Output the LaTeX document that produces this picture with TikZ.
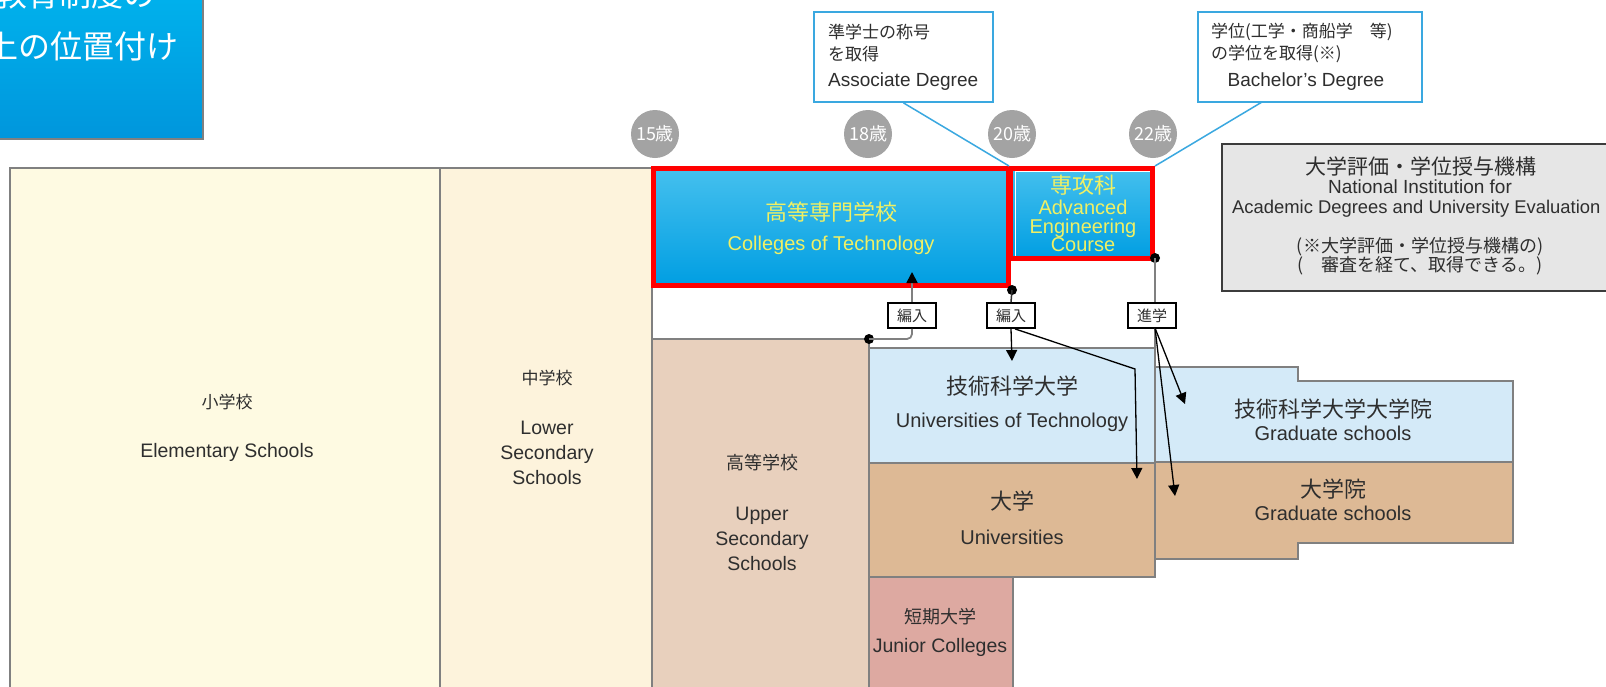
\documentclass[tikz,border=0pt]{standalone}
\usepackage{fontspec}
\setmainfont{Liberation Sans}
\newfontfamily\jp{Noto Sans CJK JP}
\usetikzlibrary{arrows.meta,shapes.geometric}
\newcommand\fsz[1]{\fontsize{#1}{#1}\selectfont}
\definecolor{titletop}{HTML}{00B4EE}
\definecolor{titlebot}{HTML}{0096DC}
\definecolor{kosentop}{HTML}{45C0EE}
\definecolor{kosenbot}{HTML}{009EE2}
\definecolor{kyellow}{HTML}{F0F064}
\definecolor{agegray}{HTML}{A3A3A3}
\definecolor{callblue}{HTML}{3AA8E0}
\definecolor{grayfill}{HTML}{E6E6E6}
\definecolor{grayline}{HTML}{3C3C3C}
\definecolor{elemfill}{HTML}{FEFAE2}
\definecolor{lowerfill}{HTML}{FDF3DC}
\definecolor{upperfill}{HTML}{E8D0BD}
\definecolor{techfill}{HTML}{D4EAF8}
\definecolor{univfill}{HTML}{DDB995}
\definecolor{juniorfill}{HTML}{DDA9A1}
\definecolor{zoneline}{HTML}{808080}
\definecolor{txt}{HTML}{2E2E2E}
\tikzset{
  zone/.style={draw=zoneline, line width=2pt},
  lbl/.style={text=txt, align=center, inner sep=0pt},
  ylbl/.style={text=kyellow, align=center, inner sep=0pt},
  agecirc/.style={circle, fill=agegray, minimum size=48pt, inner sep=0pt, text=white, font=\jp\fsz{18}},
  tagbox/.style={draw=black, fill=white, line width=1.8pt, minimum width=48pt, minimum height=25pt, inner sep=0pt, font=\jp\fsz{15}, text=txt},
  arr/.style={-{Triangle[width=11pt,length=11pt]}, line width=1.3pt, draw=black},
  garr/.style={-{Triangle[width=11pt,length=11pt,color=black]}, line width=1.8pt, draw=zoneline},
  gconn/.style={line width=1.8pt, draw=zoneline},
  bconn/.style={line width=1.5pt, draw=black!80},
  dotnode/.style={circle, fill=black, minimum size=10pt, inner sep=0pt},
  callout/.style={draw=callblue, line width=1.8pt, fill=white, inner sep=0pt},
  cline/.style={draw=callblue, line width=1.5pt},
  redframe/.style={draw=red, line width=5pt}
}
\begin{document}
\begin{tikzpicture}[x=1pt,y=-1pt]
\useasboundingbox (0,0) rectangle (1606,686);
\clip (0,0) rectangle (1606,686);
\fill[white] (0,0) rectangle (1606,686);

% title box (cut off by the page edge)
\path[top color=titletop, bottom color=titlebot] (-20,-20) rectangle (203,139);
\draw[zoneline, line width=2pt] (-20,-20) rectangle (203,139);
\node[anchor=east, text=white, font=\jp\fsz{32}, inner sep=0pt] (title1) at (156,-6) {教育制度の};
\node[anchor=east, text=white, font=\jp\fsz{32}, inner sep=0pt] (title2) at (179,46) {上の位置付け};

% age circles
\node[agecirc] (age15) at (655,134) {15歳};
\node[agecirc] (age18) at (868,134) {18歳};
\node[agecirc] (age20) at (1012,134) {20歳};
\node[agecirc] (age22) at (1153,134) {22歳};

% callout boxes
\node[callout, minimum width=179pt, minimum height=90pt] (cAssoc) at (903.5,57) {};
\node[callout, minimum width=224pt, minimum height=90pt] (cBach) at (1310,57) {};
\node[lbl, anchor=west, font=\jp\fsz{17}] (ca1) at (828,32) {準学士の称号};
\node[lbl, anchor=west, font=\jp\fsz{17}] (ca2) at (828,54) {を取得};
\node[lbl, anchor=west, font=\fsz{19}] (ca3) at (828,82) {Associate Degree};
\node[lbl, anchor=west, font=\jp\fsz{17}] (cb1) at (1211,32) {学位(工学・商船学　等)};
\node[lbl, anchor=west, font=\jp\fsz{17}] (cb2) at (1211,54) {の学位を取得(※)};
\node[lbl, font=\fsz{19}] (cb3) at (1306,82) {Bachelor's Degree};

% zones
\draw[zone, fill=elemfill] (10,168) rectangle (440,700);
\draw[zone, fill=lowerfill] (440,168) rectangle (652,700);
\draw[zone, fill=upperfill] (652,339) rectangle (869,700);
\draw[zone, fill=techfill] (869,348) rectangle (1155,463);
\draw[zone, fill=univfill] (869,463) rectangle (1155,577);
\draw[zone, fill=juniorfill] (869,577) rectangle (1013,700);
\draw[zone, fill=techfill] (1155,367) -- (1298,367) -- (1298,381) -- (1513,381) -- (1513,462) -- (1155,462) -- cycle;
\draw[zone, fill=univfill] (1155,462) -- (1513,462) -- (1513,543) -- (1298,543) -- (1298,559) -- (1155,559) -- cycle;

% kosen + advanced course
\path[top color=kosentop, bottom color=kosenbot] (653,168) rectangle (1009,286);
\path[top color=kosentop, bottom color=kosenbot] (1010,168) rectangle (1153,259);
\draw[white, line width=1pt] (1015,171) rectangle (1150,256);
\draw[redframe] (653.5,168.5) rectangle (1008.5,285.5);
\draw[redframe] (1010.5,168.5) rectangle (1152.5,258.5);

% NIAD box
\node[draw=grayline, fill=grayfill, line width=2pt, minimum width=420pt, minimum height=147pt, anchor=north west, inner sep=0pt] (niad) at (1221,143) {};
\node[lbl, font=\jp\fsz{21}] (n1) at (1421,166) {大学評価・学位授与機構};
\node[lbl, font=\fsz{19}] (n2) at (1420,187) {National Institution for};
\node[lbl, anchor=west, font=\fsz{18.4}] (n3) at (1232,209) {Academic Degrees and University Evaluation};
\node[lbl, font=\jp\fsz{18}] (n4) at (1420,247) {(※大学評価・学位授与機構の)};
\node[lbl, font=\jp\fsz{18}] (n5) at (1420,266) {(　審査を経て、取得できる。)};

% callout lines
\coordinate (kosenTR) at (1009,166);
\coordinate (advTR) at (1155,166);
\coordinate (bachFoot) at (1262,102);
\draw[cline] (cAssoc.south) -- (kosenTR);
\draw[cline] (bachFoot) -- (advTR);

% zone labels
\node[lbl, font=\jp\fsz{17}] (el1) at (227,402) {小学校};
\node[lbl, font=\fsz{19.5}] (el2) at (227,452) {Elementary Schools};
\node[lbl, font=\jp\fsz{17}] (lo1) at (547,378) {中学校};
\node[lbl, font=\fsz{19.5}] (lo2) at (547,453) {Lower\\[5.5pt]Secondary\\[5.5pt]Schools};
\node[lbl, font=\jp\fsz{18}] (up1) at (762,463) {高等学校};
\node[lbl, font=\fsz{19.5}] (up2) at (762,539) {Upper\\[5.5pt]Secondary\\[5.5pt]Schools};
\node[ylbl, font=\jp\fsz{22}] (ko1) at (831,212) {高等専門学校};
\node[ylbl, font=\fsz{20}] (ko2) at (831,245) {Colleges of Technology};
\node[ylbl, font=\jp\fsz{22}] (ad1) at (1083,185) {専攻科};
\node[ylbl, font=\fsz{20}] (ad2) at (1083,226) {Advanced\\[-1.5pt]Engineering\\[-1.5pt]Course};
\node[lbl, font=\jp\fsz{22}] (tu1) at (1012,386) {技術科学大学};
\node[lbl, font=\fsz{20}] (tu2) at (1012,422) {Universities of Technology};
\node[lbl, font=\jp\fsz{22}] (tg1) at (1333,409) {技術科学大学大学院};
\node[lbl, font=\fsz{20}] (tg2) at (1333,433) {Graduate schools};
\node[lbl, font=\jp\fsz{22}] (un1) at (1012,501) {大学};
\node[lbl, font=\fsz{20}] (un2) at (1012,537) {Universities};
\node[lbl, font=\jp\fsz{22}] (gs1) at (1333,489) {大学院};
\node[lbl, font=\fsz{20}] (gs2) at (1333,513) {Graduate schools};
\node[lbl, font=\jp\fsz{18}] (jc1) at (940,617) {短期大学};
\node[lbl, font=\fsz{19.5}] (jc2) at (940,647) {Junior Colleges};

% connectors
\node[dotnode] (dotUS) at (869,339) {};
\node[dotnode] (dotK) at (1012,290) {};
\node[dotnode] (dotA) at (1155,258) {};
\node[tagbox] (hen1) at (912,315.5) {編入};
\node[tagbox] (hen2) at (1011,315.5) {編入};
\node[tagbox] (shin) at (1152,315.5) {進学};
\coordinate (kosenIn) at (912,272);
\coordinate (tuIn) at (1012,361);
\coordinate (bend) at (1135,369);
\coordinate (univIn) at (1137,479);
\coordinate (tuTR) at (1155,348);
\coordinate (tgIn) at (1185,404);
\coordinate (gsIn) at (1175,496);
\coordinate (shinFoot) at (1155,328);

\draw[gconn, rounded corners=5pt] (dotUS.center) -| (hen1.south);
\draw[garr] (hen1.north) -- (kosenIn);
\draw[bconn] (dotK.center) -- (hen2.north);
\draw[arr] (hen2.south) -- (tuIn);
\draw[arr] ([xshift=4pt]hen2.south) -- (bend) -- (univIn);
\draw[gconn] (dotA.center) -- (dotA.center |- shin.north);
\draw[gconn] (shinFoot) -- (tuTR);
\draw[arr] (shinFoot) -- (tgIn);
\draw[arr] (shinFoot) -- (gsIn);
\end{tikzpicture}
\end{document}
